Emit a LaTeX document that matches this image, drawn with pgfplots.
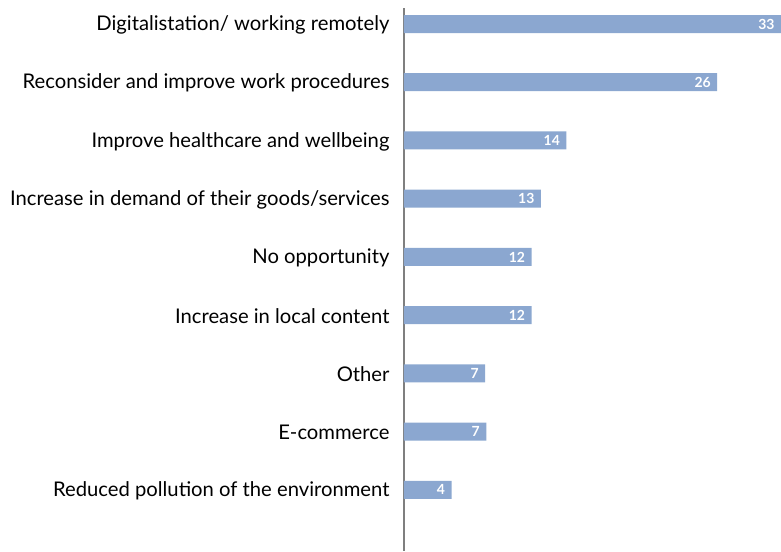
\documentclass[border=0pt]{standalone}
\usepackage{pgfplots}
\pgfplotsset{compat=1.18}
\usepackage{fontspec}
\setmainfont{Lato}
\definecolor{barblue}{HTML}{8BA7D0}
\definecolor{axgray}{HTML}{7F7F7F}
\begin{document}
\begin{tikzpicture}
\path (-404bp,0) (377bp,551bp);
\begin{axis}[
  at={(0,0)}, anchor=south west,
  scale only axis, width=377bp, height=543bp,
  xbar, bar width=18bp, bar shift=0pt,
  xmin=0, xmax=32.5,
  ymin=-0.275, ymax=9.05, y dir=reverse,
  axis x line=none,
  axis y line*=left,
  y axis line style={axgray, line width=1.6bp, -},
  ytick={0,...,8},
  yticklabels={Digitalistation/ working remotely, Reconsider and improve work procedures, Improve healthcare and wellbeing, Increase in demand of their goods/services, No opportunity, Increase in local content, Other, E-commerce, Reduced pollution of the environment},
  major tick length=0pt,
  yticklabel style={font=\fontsize{20.3}{22}\selectfont, text=black, xshift=-11bp, yshift=-1bp},
  point meta=explicit symbolic,
  nodes near coords,
  every node near coord/.append style={font=\fontsize{14}{16}\selectfont\bfseries, text=white, anchor=east, xshift=-3bp},
  clip=false,
]
\addplot[fill=barblue, draw=none] table[x=x, y=y, meta=lab] {
x y lab
32.5 0 33
27.0 1 26
14.0 2 14
11.8 3 13
11.0 4 12
11.0 5 12
7.0 6 7
7.1 7 7
4.1 8 4
};
\end{axis}
\end{tikzpicture}
\end{document}
